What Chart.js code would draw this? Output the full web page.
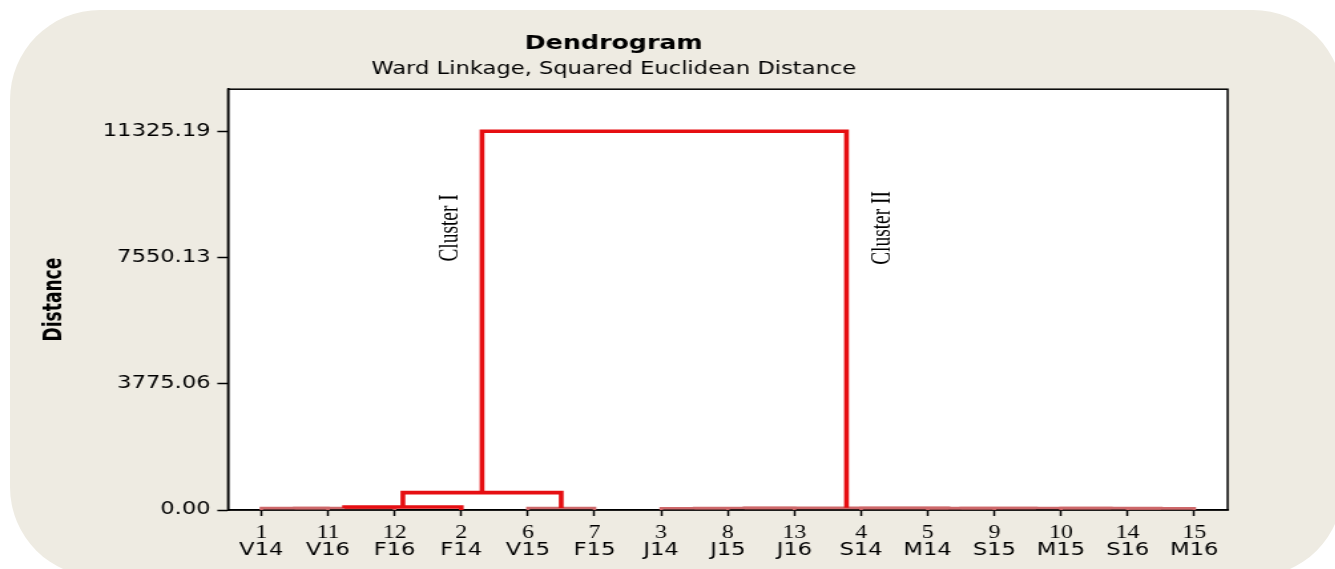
<!DOCTYPE html>
<html>
<head>
<meta charset="utf-8">
<script src="https://cdn.jsdelivr.net/npm/chart.js@4.4.1/dist/chart.umd.min.js"></script>
<style>
  html, body { margin: 0; padding: 0; background: #fff; overflow: hidden; }
  #panel { position: absolute; left: 10px; top: 10px; width: 1333px; height: 567px; border-radius: 90px; background: #eeebe2; }
  /* the source picture is stretched sideways, so the chart is drawn narrow and widened */
  #wrap { position: absolute; left: 0; top: 0; width: 1004px; height: 569px; transform: scaleX(1.33); transform-origin: 0 0; }
</style>
</head>
<body>
<div id="panel"></div>
<div id="wrap"><canvas id="chart" width="1004" height="569"></canvas></div>
<script>
// leaves, in dendrogram order
const leafIds   = ['1', '11', '12', '2', '6', '7', '3', '8', '13', '4', '5', '9', '10', '14', '15'];
const leafNames = ['V14', 'V16', 'F16', 'F14', 'V15', 'F15', 'J14', 'J15', 'J16', 'S14', 'M14', 'S15', 'M15', 'S16', 'M16'];

// merge k joins two groups (leaf id or 'N' + merge number) at a height
const mergeLeft   = ['1',  'N1', 'N2', '6',  'N3', '3',  'N6', '14', '10', '5',  'N10', '4',  'N7', 'N5'];
const mergeRight  = ['11', '12', '2',  '7',  'N4', '8',  '13', '15', 'N8', '9',  'N9',  'N11', 'N12', 'N13'];
const mergeHeight = [55,   60,   90,   58,   520,  52,   58,   50,   55,   52,   60,    62,   65,   11325.19];

// y axis
const yTickValues = [0, 3775.06, 7550.13, 11325.19];
const yTickLabels = ['0.00', '3775.06', '7550.13', '11325.19'];
const yMax = 12583.54;

// cluster names, written beside the two top branches
const clusterNames = ['Cluster I', 'Cluster II'];
const clusterNodes = ['N5', 'N13'];
const clusterLabelAt = 8434;

const RED = 'rgb(230,14,18)';
const PINK = 'rgb(206,104,106)';

// x position and height of every group
const nodeX = {}, nodeY = {};
leafIds.forEach((id, i) => { nodeX[id] = i + 0.5; nodeY[id] = 0; });

const datasets = mergeLeft.map((a, k) => {
  const b = mergeRight[k];
  const h = mergeHeight[k];
  const id = 'N' + (k + 1);
  nodeX[id] = (nodeX[a] + nodeX[b]) / 2;
  nodeY[id] = h;
  const low = h < 70;
  return {
    label: id,
    data: [
      { x: nodeX[a], y: nodeY[a] },
      { x: nodeX[a], y: h },
      { x: nodeX[b], y: h },
      { x: nodeX[b], y: nodeY[b] }
    ],
    borderColor: low ? PINK : RED,
    borderWidth: low ? 2.6 : 3.6,
    borderJoinStyle: 'miter',
    borderCapStyle: 'butt',
    pointRadius: 0,
    tension: 0,
    fill: false,
    order: low ? 1 : 0
  };
});

const leafTicks = (scale) => { scale.ticks = leafIds.map((_, i) => ({ value: i + 0.5 })); };

// white plot area with a black frame
const plotFrame = {
  id: 'plotFrame',
  beforeDraw(chart) {
    const { ctx, chartArea: c } = chart;
    ctx.save();
    ctx.fillStyle = '#fff';
    ctx.fillRect(c.left, c.top, c.right - c.left, c.bottom - c.top);
    ctx.restore();
  },
  beforeDatasetsDraw(chart) {
    const { ctx, chartArea: c } = chart;
    ctx.save();
    ctx.strokeStyle = '#000';
    ctx.lineWidth = 1.5;
    ctx.strokeRect(c.left, c.top, c.right - c.left, c.bottom - c.top);
    ctx.restore();
  }
};

// rotated cluster names
const clusterText = {
  id: 'clusterText',
  afterDatasetsDraw(chart) {
    const { ctx, scales: { x, y } } = chart;
    ctx.save();
    ctx.fillStyle = '#000';
    ctx.font = '22px "Liberation Serif", "Times New Roman", serif';
    ctx.textAlign = 'center';
    ctx.textBaseline = 'middle';
    clusterNames.forEach((name, i) => {
      const px = x.getPixelForValue(nodeX[clusterNodes[i]]) + (i === 0 ? -24 : 27);
      const py = y.getPixelForValue(clusterLabelAt);
      ctx.save();
      ctx.translate(px, py);
      ctx.rotate(-Math.PI / 2);
      ctx.scale(0.88, 1);
      ctx.fillText(name, 0, 0);
      ctx.restore();
    });
    ctx.restore();
  }
};

new Chart(document.getElementById('chart'), {
  type: 'line',
  data: { datasets: datasets },
  plugins: [plotFrame, clusterText],
  options: {
    responsive: false,
    animation: false,
    layout: { padding: { left: 0, right: 81, top: 0, bottom: 10 } },
    plugins: {
      legend: { display: false },
      tooltip: { enabled: false },
      title: {
        display: true,
        text: 'Dendrogram',
        color: '#000',
        font: { family: 'DejaVu Sans', size: 19, weight: 'bold', lineHeight: 1.2 },
        padding: { top: 33, bottom: 0 }
      },
      subtitle: {
        display: true,
        text: 'Ward Linkage, Squared Euclidean Distance',
        color: '#000',
        font: { family: 'DejaVu Sans', size: 17, lineHeight: 1.2 },
        padding: { top: 4, bottom: 9 }
      }
    },
    scales: {
      x: {
        type: 'linear',
        position: 'bottom',
        weight: 0,
        min: 0,
        max: 15,
        afterBuildTicks: leafTicks,
        afterFit: (s) => { s.height = 32; },
        ticks: {
          autoSkip: false,
          maxRotation: 0,
          padding: 8,
          color: '#000',
          font: { family: '"Liberation Serif", serif', size: 18, lineHeight: 1 },
          callback: (v, i) => leafIds[i]
        },
        grid: { drawOnChartArea: false, tickLength: 6, tickColor: '#000', tickWidth: 1.5 },
        border: { color: '#000', width: 1.5 }
      },
      x2: {
        type: 'linear',
        position: 'bottom',
        weight: 1,
        min: 0,
        max: 15,
        afterBuildTicks: leafTicks,
        afterFit: (s) => { s.height = 17; },
        ticks: {
          autoSkip: false,
          maxRotation: 0,
          padding: 0,
          color: '#000',
          font: { family: 'DejaVu Sans', size: 17, lineHeight: 1 },
          callback: (v, i) => leafNames[i]
        },
        grid: { display: false, drawTicks: false },
        border: { display: false }
      },
      y: {
        type: 'linear',
        min: 0,
        max: yMax,
        afterBuildTicks: (s) => { s.ticks = yTickValues.map(v => ({ value: v })); },
        afterFit: (s) => { s.width = 171.4; },
        ticks: {
          padding: 5,
          color: '#000',
          font: { family: 'DejaVu Sans', size: 17 },
          callback: (v, i) => yTickLabels[i]
        },
        grid: { drawOnChartArea: false, tickLength: 8, tickColor: '#000', tickWidth: 1.5 },
        border: { color: '#000', width: 1.5 },
        title: {
          display: true,
          text: 'Distance',
          color: '#000',
          font: { family: '"Liberation Sans Narrow", "DejaVu Sans Condensed", sans-serif', size: 19, weight: 'bold' },
          padding: { top: 30, bottom: 0 }
        }
      }
    }
  }
});
</script>
</body>
</html>
